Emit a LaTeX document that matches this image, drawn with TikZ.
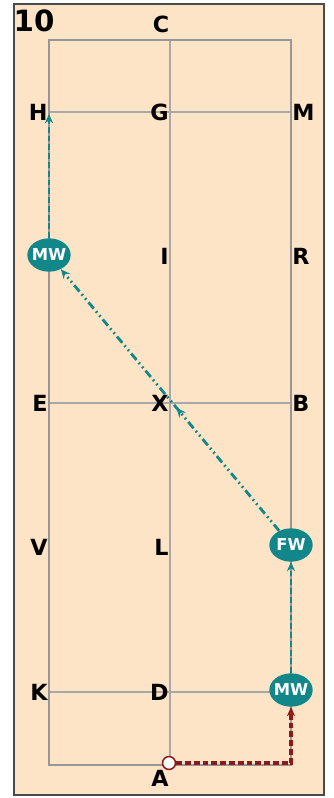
\documentclass[tikz,border=0pt]{standalone}
\usepackage{fontspec}
\setsansfont{DejaVu Sans}
\usetikzlibrary{arrows.meta,shapes.geometric,decorations.markings}
\definecolor{arena}{HTML}{FDE4C6}
\definecolor{teamcol}{HTML}{12878A}
\definecolor{pathred}{HTML}{8B1A1A}
\definecolor{gridcol}{HTML}{A8A8A8}
\definecolor{framecol}{HTML}{4A4A4A}

\begin{document}
\begin{tikzpicture}[x=0.03cm,y=-0.03cm,>={Stealth[length=8pt,width=7pt]},
  letter/.style={font=\sffamily\bfseries\fontsize{19}{19}\selectfont,inner sep=1pt},
  rider/.style={ellipse,fill=teamcol,text=white,inner xsep=-3pt,inner ysep=0pt,
    minimum width=1.3cm,minimum height=1cm,
    font=\sffamily\bfseries\fontsize{14}{14}\selectfont},
  tealdash/.style={teamcol,line width=2.4pt,dash pattern=on 5pt off 2.5pt},
  tealdots/.style={teamcol,line width=2.4pt,
    dash pattern=on 7pt off 3pt on 1.5pt off 3pt on 1.5pt off 3pt},
  redpath/.style={pathred,line width=2.6pt,dash pattern=on 5pt off 2.5pt},
  midarrow/.style={postaction={decorate},decoration={markings,
    mark=at position #1 with {\arrow{Stealth[length=8pt,width=7pt]}}}}]
\useasboundingbox (0,0) rectangle (334,798);
% arena and frame
\draw[framecol,line width=1.8pt,fill=arena] (14,4) rectangle (324,795);
\coordinate (nw) at (49,40);
\coordinate (se) at (291,765);
\draw[gridcol,line width=1.1pt] (170,40) -- (170,765);
\draw[gridcol,line width=1.1pt] (49,112) -- (291,112);
\draw[gridcol,line width=1.1pt] (49,403) -- (291,403);
\draw[gridcol,line width=1.1pt] (49,692) -- (291,692);
\draw[gridcol!90!black,line width=2pt] (nw) rectangle (se);
% test number
\node[font=\sffamily\bfseries\fontsize{25}{25}\selectfont] (num) at (34,21) {10};
% letters
\node[letter] (C) at (161,24) {C};
\node[letter,anchor=east] (H) at (49,112) {H};
\node[letter,anchor=east] (G) at (170,112) {G};
\node[letter,anchor=west] (M) at (291,112) {M};
\node[letter,anchor=east] (I) at (170,256) {I};
\node[letter,anchor=west] (R) at (291,256) {R};
\node[letter,anchor=east] (E) at (49,403) {E};
\node[letter,anchor=east] (X) at (170,403) {X};
\node[letter,anchor=west] (B) at (291,403) {B};
\node[letter,anchor=east] (V) at (49,547) {V};
\node[letter,anchor=east] (L) at (170,547) {L};
\node[letter,anchor=east] (K) at (49,692) {K};
\node[letter,anchor=east] (D) at (170,692) {D};
\node[letter] (A) at (160,778) {A};
% riders
\node[rider] (mwtop) at (49,255) {MW};
\node[rider] (fw) at (291,545) {FW};
\node[rider] (mwlow) at (291,690) {MW};
\node[circle,draw=pathred,fill=white,line width=1.3pt,inner sep=0pt,
  minimum size=11pt] (start) at (169,763) {};
\coordinate (corner) at (291,763);
\coordinate (hend) at (49,114);
% tracks
\draw[redpath,->] (start) -- (corner) -- (mwlow);
\draw[tealdash,->] (mwlow) -- (fw);
\draw[tealdots,->,midarrow=0.47] (fw) -- (mwtop);
\draw[tealdash,->] (mwtop) -- (hend);
\end{tikzpicture}
\end{document}
